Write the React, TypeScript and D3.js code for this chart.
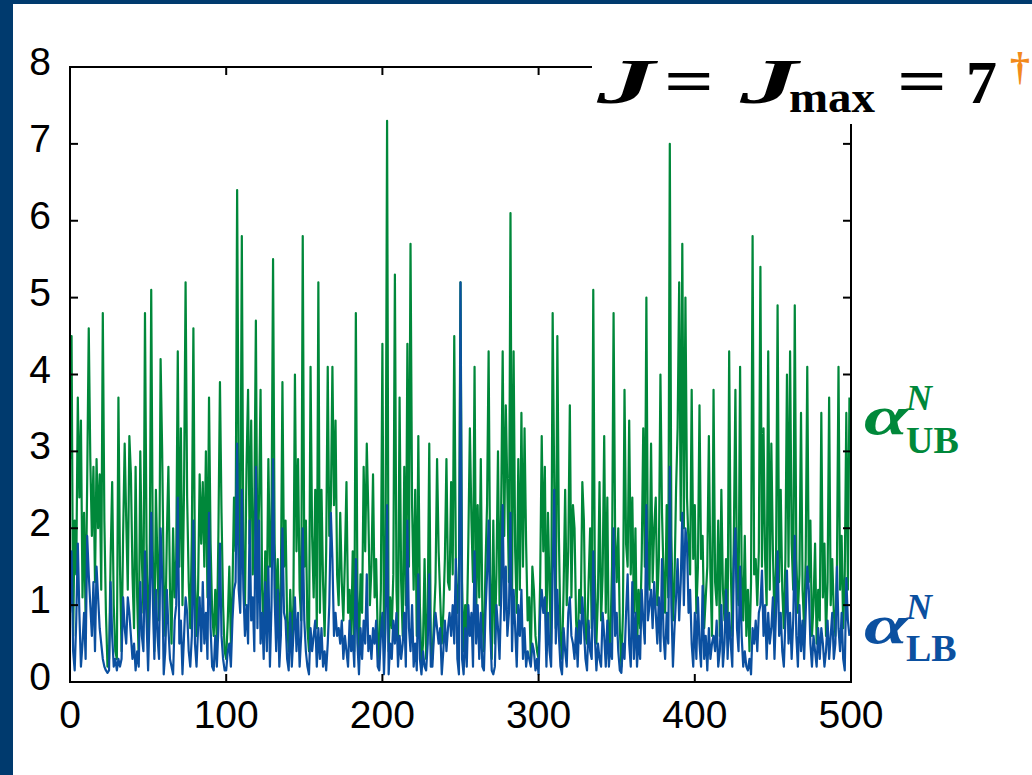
import React from 'react';
import * as d3 from 'd3';

const W = 1032;
const H = 775;

const xTicks = [0, 100, 200, 300, 400, 500];
const yTicks = [0, 1, 2, 3, 4, 5, 6, 7, 8];

// alpha_UB^N, one value per sample
const ubValues = [
  2.9, 4.5, 0.6, 2.1, 1.4, 3.7, 2.4, 3.4, 1.1, 2.2,
  0.8, 2.6, 4.6, 2.9, 1.9, 2.8, 1.3, 2.9, 2.0, 2.7,
  1.2, 4.8, 2.1, 0.9, 0.2, 0.3, 1.6, 2.6, 1.0, 0.4,
  0.3, 3.7, 1.5, 0.4, 1.9, 3.1, 2.1, 1.2, 3.2, 2.7,
  1.4, 0.7, 2.8, 1.1, 0.3, 3.0, 1.6, 0.9, 4.8, 1.8,
  0.5, 1.4, 5.1, 1.7, 0.4, 2.5, 1.5, 0.8, 4.2, 3.0,
  1.3, 0.6, 1.9, 2.8, 1.2, 0.5, 2.0, 1.1, 1.6, 4.3,
  1.5, 3.3, 1.0, 2.5, 5.2, 2.4, 1.3, 0.7, 1.9, 4.6,
  1.4, 0.6, 1.2, 2.7, 1.8, 2.6, 1.5, 3.0, 1.1, 3.7,
  1.8, 0.9, 0.6, 1.2, 0.5, 1.9, 3.9, 2.2, 1.0, 0.4,
  0.3, 0.8, 1.5, 0.5, 1.2, 2.4, 1.7, 6.4, 2.5, 1.4,
  5.8, 1.6, 1.0, 2.8, 3.8, 1.8, 3.4, 1.4, 2.2, 4.7,
  1.3, 2.3, 3.8, 1.2, 0.6, 1.7, 1.0, 2.9, 1.5, 2.1,
  5.5, 1.8, 0.9, 1.6, 0.5, 1.3, 3.9, 1.5, 2.1, 0.8,
  0.4, 1.2, 0.5, 1.0, 4.0, 1.7, 2.9, 1.2, 0.8, 5.8,
  1.5, 2.1, 0.7, 0.4, 4.1, 1.9, 1.1, 2.5, 0.7, 5.2,
  0.9, 2.5, 1.3, 0.6, 1.7, 4.1, 1.9, 2.3, 4.1, 2.3,
  3.4, 1.4, 1.0, 2.2, 1.3, 0.8, 1.6, 2.6, 0.9, 1.2,
  0.5, 1.7, 0.4, 4.8, 1.2, 0.4, 1.4, 0.9, 2.8, 1.7,
  3.1, 2.2, 1.0, 1.5, 2.7, 1.1, 1.6, 0.6, 0.3, 1.2,
  4.4, 0.5, 1.5, 7.3, 0.4, 1.1, 0.7, 1.4, 5.3, 1.2,
  0.5, 3.7, 1.3, 0.6, 2.8, 1.0, 4.4, 1.5, 5.7, 2.3,
  1.2, 2.5, 0.6, 3.2, 1.0, 0.2, 0.5, 1.6, 0.3, 0.9,
  3.1, 0.5, 0.3, 0.8, 1.3, 2.9, 1.7, 1.1, 0.5, 0.9,
  1.6, 2.9, 1.3, 1.2, 2.6, 1.4, 4.5, 1.6, 0.9, 1.3,
  5.2, 1.3, 0.4, 1.0, 0.6, 1.8, 3.3, 2.1, 1.3, 4.1,
  0.8, 2.3, 1.1, 2.9, 0.9, 0.4, 1.5, 2.3, 4.3, 1.4,
  0.3, 2.1, 0.5, 1.4, 3.0, 1.0, 2.2, 4.3, 1.9, 3.6,
  2.5, 1.3, 6.1, 1.1, 4.3, 1.7, 0.9, 2.9, 1.2, 3.5,
  1.5, 3.3, 1.8, 0.8, 1.1, 0.3, 1.5, 1.2, 0.6, 0.4,
  0.3, 1.3, 3.2, 1.7, 2.8, 0.6, 2.2, 1.2, 0.5, 4.8,
  2.6, 0.7, 4.5, 1.9, 0.6, 0.3, 1.2, 2.5, 1.0, 1.7,
  3.6, 1.1, 2.3, 2.0, 0.8, 0.4, 1.2, 0.9, 2.6, 2.1,
  0.6, 0.5, 1.3, 2.0, 0.7, 5.1, 1.4, 0.5, 1.1, 2.6,
  0.8, 1.4, 3.2, 0.9, 2.4, 0.3, 0.6, 1.5, 4.8, 1.9,
  1.3, 2.0, 0.7, 0.2, 0.9, 3.8, 1.8, 1.5, 3.4, 1.4,
  2.4, 0.9, 2.0, 0.4, 1.2, 0.7, 1.6, 3.3, 1.5, 5.0,
  1.5, 1.2, 3.1, 1.3, 2.0, 2.4, 1.0, 1.6, 4.0, 2.2,
  1.4, 0.9, 2.3, 1.1, 7.0, 1.9, 0.8, 1.3, 2.5, 3.3,
  5.2, 2.1, 5.7, 2.0, 5.0, 2.4, 1.8, 1.4, 3.8, 1.6,
  2.3, 0.9, 1.5, 3.6, 1.6, 1.9, 0.7, 1.1, 1.5, 3.2,
  1.4, 0.6, 3.8, 1.3, 1.0, 2.1, 0.6, 2.5, 1.2, 0.8,
  1.6, 0.7, 4.3, 1.5, 0.6, 1.9, 3.8, 1.3, 1.0, 4.1,
  1.4, 0.8, 1.9, 0.6, 1.2, 0.4, 1.3, 5.8, 1.4, 1.6,
  1.0, 1.7, 5.4, 1.5, 3.3, 1.6, 1.0, 4.3, 1.2, 3.1,
  1.7, 0.8, 1.5, 4.9, 1.3, 2.5, 1.2, 0.7, 1.6, 4.0,
  1.5, 4.3, 1.8, 1.2, 4.9, 1.6, 0.9, 1.4, 3.5, 1.2,
  0.7, 1.6, 4.1, 1.3, 2.1, 0.6, 1.0, 1.8, 0.5, 1.2,
  0.8, 3.5, 1.1, 1.8, 0.6, 1.3, 3.7, 1.0, 1.6, 0.9,
  0.6, 1.5, 4.1, 1.2, 1.9, 0.7, 1.4, 3.5, 1.2, 3.7,
];

// alpha_LB^N
const lbValues = [
  0.9, 1.7, 0.4, 0.15, 0.8, 1.8, 0.9, 0.2, 0.5, 0.9,
  0.3, 1.9, 1.4, 1.0, 0.6, 1.3, 0.4, 1.5, 1.1, 0.7,
  0.5, 0.3, 0.2, 0.15, 0.12, 0.15, 1.3, 0.6, 0.2, 0.3,
  0.15, 0.3, 0.2, 0.3, 1.1, 0.7, 0.5, 1.1, 0.9, 0.6,
  0.3, 0.5, 0.15, 0.4, 0.2, 1.3, 0.6, 0.4, 1.7, 0.8,
  0.15, 0.9, 2.2, 1.1, 0.3, 1.2, 0.6, 0.3, 2.0, 1.4,
  0.1, 0.4, 1.2, 0.7, 0.3, 0.2, 0.1, 0.8, 1.0, 2.4,
  0.5, 0.8, 0.1, 0.6, 1.1, 0.9, 0.4, 0.2, 0.6, 2.1,
  0.5, 0.2, 0.7, 1.1, 0.4, 1.3, 0.5, 0.9, 0.3, 2.2,
  0.7, 0.2, 0.15, 0.6, 0.2, 0.7, 1.8, 0.6, 0.3, 0.15,
  0.15, 0.4, 0.5, 0.2, 0.8, 1.2, 1.3, 3.1, 1.2, 0.9,
  2.5, 1.2, 0.6, 1.0, 0.5, 2.1, 0.8, 1.1, 0.4, 2.8,
  0.7, 2.1, 0.5, 0.9, 0.3, 1.3, 0.4, 1.5, 0.2, 1.0,
  2.9, 1.1, 0.4, 1.2, 0.2, 0.6, 2.0, 0.9, 0.8, 0.3,
  0.15, 0.9, 0.2, 0.6, 1.1, 0.4, 0.9, 0.2, 0.6, 2.0,
  0.8, 0.4, 0.2, 0.1, 0.7, 0.4, 0.6, 0.8, 0.2, 0.7,
  0.3, 0.7, 0.2, 0.4, 0.15, 0.5, 1.0, 2.2, 1.6, 0.6,
  0.9, 0.6, 0.7, 0.5, 0.8, 0.3, 0.6, 0.4, 0.2, 0.8,
  0.4, 0.6, 0.2, 1.6, 0.5, 0.1, 0.7, 0.3, 0.8, 0.5,
  1.4, 0.4, 0.6, 0.3, 0.7, 0.5, 0.8, 0.2, 0.15, 0.6,
  0.9, 0.1, 0.7, 2.3, 0.1, 0.5, 0.3, 0.8, 0.5, 0.9,
  0.2, 0.6, 0.3, 0.5, 0.9, 0.2, 2.1, 0.7, 0.4, 1.0,
  0.2, 0.5, 0.15, 1.4, 0.3, 0.1, 0.4, 0.2, 0.15, 0.5,
  1.4, 0.2, 0.2, 0.6, 0.9, 0.7, 0.5, 0.7, 0.1, 0.4,
  0.8, 0.4, 0.7, 0.9, 0.6, 1.0, 0.5, 1.6, 0.3, 0.1,
  5.2, 0.3, 0.1, 0.7, 0.2, 1.0, 0.6, 0.9, 0.2, 1.7,
  0.5, 1.0, 0.3, 0.9, 0.2, 0.15, 0.9, 1.4, 2.1, 0.7,
  0.15, 0.1, 0.2, 1.0, 0.7, 0.3, 1.1, 2.3, 0.8, 1.5,
  0.6, 0.9, 2.2, 0.4, 1.2, 0.7, 0.2, 1.0, 0.6, 1.2,
  0.3, 0.7, 0.2, 0.4, 0.3, 0.2, 0.5, 0.4, 0.15, 0.3,
  0.1, 0.9, 1.2, 0.9, 1.1, 0.2, 0.9, 0.4, 0.2, 1.4,
  2.5, 0.5, 1.2, 0.6, 0.2, 0.1, 0.7, 0.4, 0.2, 0.9,
  1.1, 0.6, 0.5, 0.3, 0.7, 0.2, 0.8, 0.5, 1.1, 0.7,
  0.3, 0.15, 0.8, 0.4, 0.3, 1.7, 0.6, 0.15, 0.5, 0.3,
  0.2, 0.9, 0.6, 0.2, 0.8, 0.2, 0.5, 0.3, 2.0, 0.6,
  0.9, 0.4, 0.15, 0.12, 0.5, 0.3, 0.9, 1.4, 0.5, 0.2,
  1.3, 0.3, 0.9, 0.2, 0.6, 0.3, 1.2, 0.8, 0.5, 2.3,
  0.8, 1.0, 1.2, 0.7, 1.3, 0.9, 0.5, 1.1, 0.4, 1.6,
  0.6, 0.3, 0.9, 0.5, 2.8, 1.0, 0.2, 0.7, 1.1, 1.6,
  0.8, 1.3, 2.2, 1.0, 2.0, 1.8, 0.9, 1.2, 0.5, 0.2,
  0.9, 0.3, 1.1, 0.5, 0.2, 1.25, 0.3, 0.6, 0.15, 0.7,
  0.3, 0.5, 0.6, 0.4, 0.8, 0.2, 0.4, 1.0, 0.2, 0.5,
  1.2, 0.3, 0.9, 0.5, 0.2, 1.6, 2.0, 0.7, 0.4, 1.5,
  0.6, 0.2, 0.4, 0.2, 0.15, 0.3, 0.1, 0.7, 0.5, 0.8,
  0.4, 0.9, 1.0, 1.45, 0.6, 1.0, 0.3, 0.9, 0.5, 0.7,
  1.1, 0.3, 0.9, 1.7, 0.6, 0.9, 0.4, 0.2, 0.8, 1.45,
  0.5, 0.9, 0.3, 0.8, 1.9, 0.6, 0.2, 1.0, 0.4, 0.8,
  0.3, 0.9, 1.5, 1.2, 0.5, 0.2, 0.6, 0.4, 0.2, 0.7,
  0.3, 0.7, 0.5, 0.2, 0.4, 0.8, 0.3, 0.6, 0.9, 0.3,
  0.5, 1.5, 0.7, 0.4, 0.9, 0.3, 0.15, 1.35, 0.8, 0.6,
];

const NAVY = '#003a6e';
const GREEN = '#00883a';
const BLUE = '#0b50a0';
const ORANGE = '#f28a1c';

const plot = { left: 70, right: 851, top: 67, bottom: 682 };
const tickLen = 8;
const tickFont = '"Liberation Sans", Arial, Helvetica, sans-serif';
const mathFont = '"Liberation Serif", "DejaVu Serif", serif';

export default function App() {
  const x = d3.scaleLinear().domain([0, 500]).range([plot.left, plot.right]);
  const y = d3.scaleLinear().domain([0, 8]).range([plot.bottom, plot.top]);

  const line = d3
    .line<number>()
    .x((_, i) => x(i))
    .y((d) => y(d));

  return (
    <svg
      width={W}
      height={H}
      style={{ position: 'absolute', left: 0, top: 0, display: 'block' }}
    >
      <rect x={0} y={0} width={W} height={H} fill="white" />
      <rect x={0} y={0} width={13} height={H} fill={NAVY} />
      <rect x={0} y={0} width={W} height={4} fill={NAVY} />

      <defs>
        <clipPath id="plotClip">
          <rect
            x={plot.left}
            y={plot.top}
            width={plot.right - plot.left}
            height={plot.bottom - plot.top}
          />
        </clipPath>
      </defs>

      <g clipPath="url(#plotClip)" fill="none" strokeWidth={2.2} strokeLinejoin="round">
        <path d={line(ubValues) ?? ''} stroke={GREEN} />
        <path d={line(lbValues) ?? ''} stroke={BLUE} />
      </g>

      {/* axes box with inward ticks */}
      <g stroke="black" strokeWidth={2}>
        <rect
          x={plot.left}
          y={plot.top}
          width={plot.right - plot.left}
          height={plot.bottom - plot.top}
          fill="none"
        />
        {xTicks.slice(1, -1).map((t) => (
          <g key={'xt' + t}>
            <line x1={x(t)} x2={x(t)} y1={plot.bottom} y2={plot.bottom - tickLen} />
            <line x1={x(t)} x2={x(t)} y1={plot.top} y2={plot.top + tickLen} />
          </g>
        ))}
        {yTicks.slice(1, -1).map((t) => (
          <g key={'yt' + t}>
            <line x1={plot.left} x2={plot.left + tickLen} y1={y(t)} y2={y(t)} />
            <line x1={plot.right} x2={plot.right - tickLen} y1={y(t)} y2={y(t)} />
          </g>
        ))}
      </g>

      <g fontFamily={tickFont} fontSize={39} fill="black">
        {xTicks.map((t) => (
          <text key={'xl' + t} x={x(t)} y={plot.bottom + 46} textAnchor="middle">
            {t}
          </text>
        ))}
        {yTicks.map((t) => (
          <text key={'yl' + t} x={51} y={y(t) + 8} textAnchor="end">
            {t}
          </text>
        ))}
      </g>

      {/* title block covering the top-right corner of the box */}
      <rect x={592} y={5} width={W - 592} height={119} fill="white" />
      <g fontFamily={mathFont} fontWeight="bold" fill="black">
        <text x={597} y={103} fontSize={64} fontStyle="italic" textLength={58} lengthAdjust="spacingAndGlyphs">J</text>
        <text x={664} y={103} fontSize={64} textLength={50} lengthAdjust="spacingAndGlyphs">=</text>
        <text x={740} y={103} fontSize={64} fontStyle="italic" textLength={58} lengthAdjust="spacingAndGlyphs">J</text>
        <text x={789} y={112} fontSize={44} textLength={86} lengthAdjust="spacingAndGlyphs">max</text>
        <text x={897} y={103} fontSize={64} textLength={50} lengthAdjust="spacingAndGlyphs">=</text>
        <text x={966} y={103} fontSize={62}>7</text>
        <text x={1010} y={80} fontSize={40} fill={ORANGE}>†</text>
      </g>

      {/* series labels */}
      <g fontFamily={mathFont} fontWeight="bold" fill={GREEN}>
        <text x={864} y={434} fontSize={54} fontStyle="italic" textLength={44} lengthAdjust="spacingAndGlyphs">α</text>
        <text x={906} y={410} fontSize={36} fontStyle="italic">N</text>
        <text x={906} y={453} fontSize={38}>UB</text>
      </g>
      <g fontFamily={mathFont} fontWeight="bold" fill={BLUE}>
        <text x={864} y={643} fontSize={54} fontStyle="italic" textLength={44} lengthAdjust="spacingAndGlyphs">α</text>
        <text x={906} y={619} fontSize={36} fontStyle="italic">N</text>
        <text x={906} y={661} fontSize={38}>LB</text>
      </g>
    </svg>
  );
}
